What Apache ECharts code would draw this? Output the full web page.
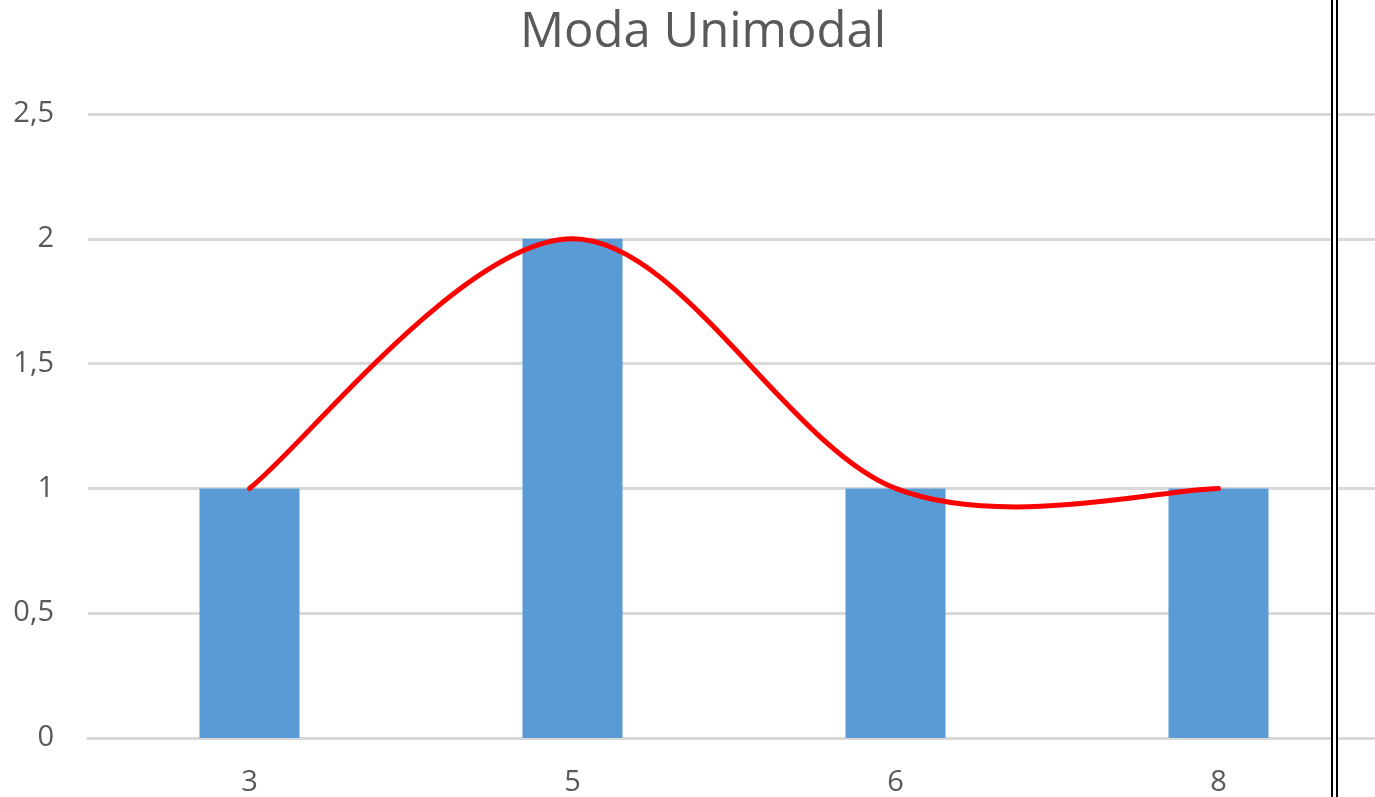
<!DOCTYPE html>
<html>
<head>
<meta charset="utf-8">
<script src="https://cdn.jsdelivr.net/npm/echarts@6/dist/echarts.min.js"></script>
<style>
html, body { margin: 0; padding: 0; background: #fff; }
#main { width: 1375px; height: 797px; }
</style>
</head>
<body>
<div id="main"></div>
<script>
var categories = ['3', '5', '6', '8'];
var counts = [1, 2, 1, 1];
var curve = [1, 2, 1, 1];

// smoothed line like the spreadsheet one (Catmull-Rom through the points)
function renderCurve(params, api) {
    if (params.dataIndex !== 0) return;
    var pts = [];
    for (var i = 0; i < curve.length; i++) {
        pts.push(api.coord([i, curve[i]]));
    }
    var path = 'M' + pts[0][0] + ' ' + pts[0][1];
    for (var i = 0; i < pts.length - 1; i++) {
        var p0 = pts[Math.max(i - 1, 0)];
        var p1 = pts[i];
        var p2 = pts[i + 1];
        var p3 = pts[Math.min(i + 2, pts.length - 1)];
        var c1 = [p1[0] + (p2[0] - p0[0]) / 6, p1[1] + (p2[1] - p0[1]) / 6];
        var c2 = [p2[0] - (p3[0] - p1[0]) / 6, p2[1] - (p3[1] - p1[1]) / 6];
        path += ' C' + c1[0] + ' ' + c1[1] + ' ' + c2[0] + ' ' + c2[1] + ' ' + p2[0] + ' ' + p2[1];
    }
    return {
        type: 'path',
        shape: { pathData: path },
        style: { fill: null, stroke: '#ff0000', lineWidth: 5, lineCap: 'round' }
    };
}

var chart = echarts.init(document.getElementById('main'));
var option = {
    backgroundColor: '#fff',
    title: {
        text: 'Moda Unimodal',
        left: 698,
        textAlign: 'center',
        top: 4,
        textStyle: {
            color: '#595959',
            fontSize: 49,
            fontWeight: 'normal',
            fontFamily: 'Open Sans'
        }
    },
    grid: {
        left: 88,
        right: -5,
        top: 114,
        bottom: 59,
        outerBoundsMode: 'none'
    },
    xAxis: {
        type: 'category',
        data: categories,
        axisTick: { show: false },
        axisLine: { lineStyle: { color: '#d9d9d9', width: 3 } },
        axisLabel: {
            color: '#595959',
            fontSize: 29,
            fontFamily: 'Open Sans',
            margin: 30
        }
    },
    yAxis: {
        type: 'value',
        min: 0,
        max: 2.5,
        interval: 0.5,
        axisLine: { show: false },
        axisTick: { show: false },
        splitLine: { lineStyle: { color: '#d9d9d9', width: 3 } },
        axisLabel: {
            color: '#595959',
            fontSize: 29,
            fontFamily: 'Open Sans',
            margin: 34,
            formatter: function (v) { return String(v).replace('.', ','); }
        }
    },
    series: [
        {
            type: 'bar',
            data: counts,
            barWidth: 100,
            itemStyle: { color: '#5b9bd5' },
            z: 2
        },
        {
            type: 'custom',
            data: curve,
            renderItem: renderCurve,
            z: 3
        }
    ],
    graphic: [
        { type: 'rect', shape: { x: 1331, y: 0, width: 2, height: 797 }, style: { fill: '#000' }, z: 10 },
        { type: 'rect', shape: { x: 1336, y: 0, width: 2, height: 797 }, style: { fill: '#000' }, z: 10 },
        { type: 'rect', shape: { x: 1333, y: 0, width: 3, height: 797 }, style: { fill: '#fff' }, z: 10 }
    ]
};
chart.setOption(option);
</script>
</body>
</html>
